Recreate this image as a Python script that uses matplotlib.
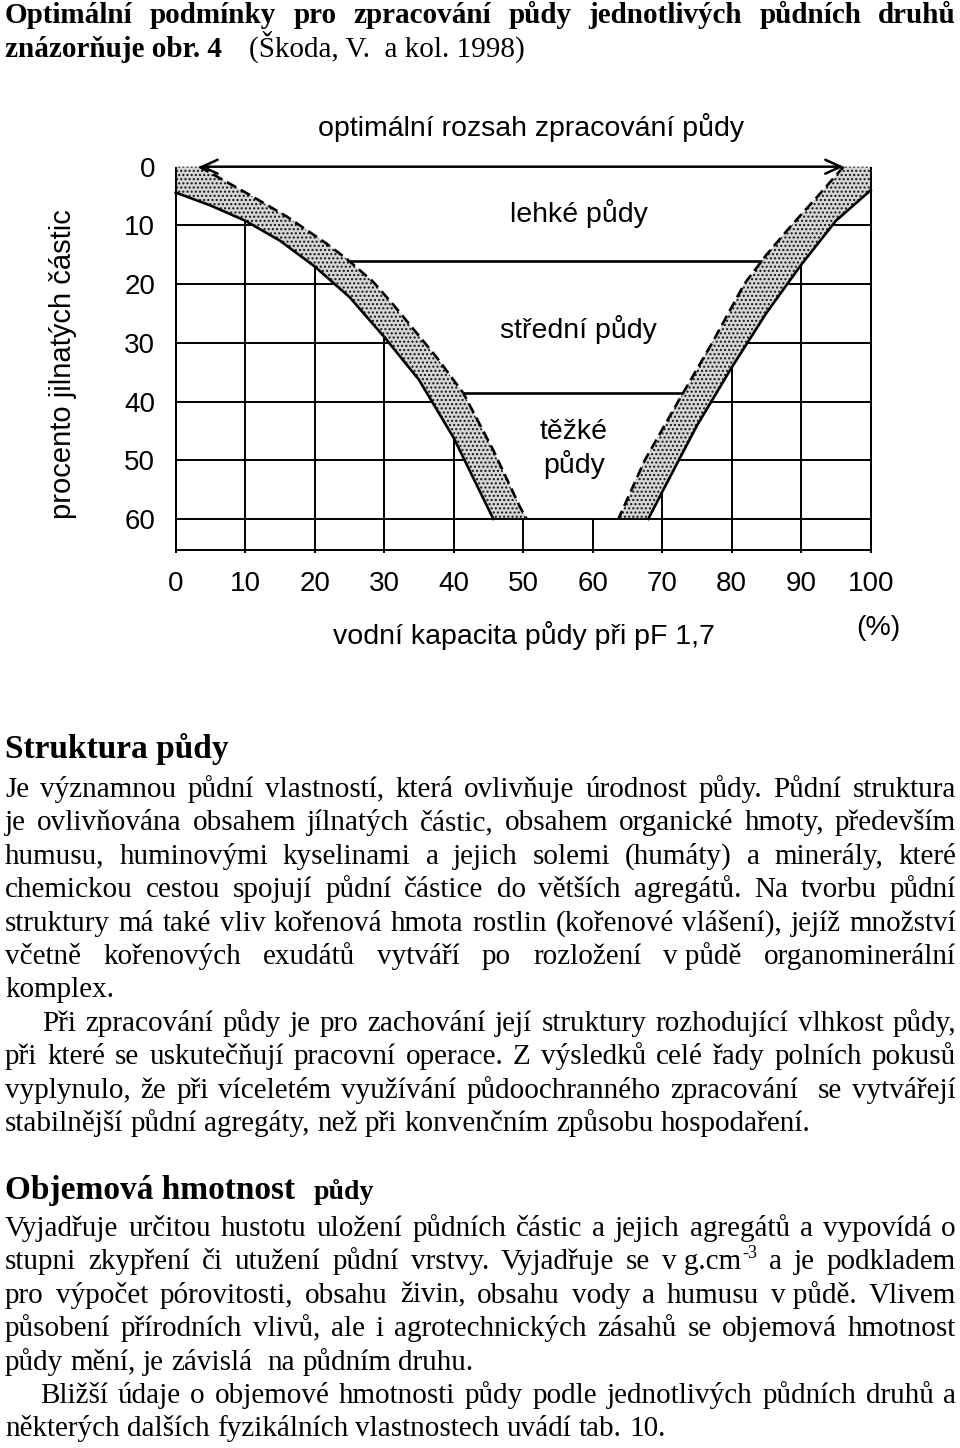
import matplotlib
matplotlib.use("Agg")
import matplotlib.pyplot as plt
from matplotlib.transforms import IdentityTransform

SANS = ['Liberation Sans', 'DejaVu Sans']
SERIF = ['Liberation Serif', 'DejaVu Serif']
plt.rcParams['font.family'] = SANS
plt.rcParams['hatch.linewidth'] = 1.0

W, H = 960, 1448

# --- chart data: x = vodni kapacita (%), y = procento jilnatych castic ---
x_ticks = [0, 10, 20, 30, 40, 50, 60, 70, 80, 90, 100]
y_ticks = [0, 10, 20, 30, 40, 50, 60]

left_outer_x = [0, 5, 10, 15, 20, 25, 30, 35, 40, 45.7]
left_outer_y = [4.4, 6.6, 9.2, 12.6, 17.0, 22.2, 29.0, 36.3, 46.2, 60]
left_inner_x = [3.4, 10.2, 16.0, 21.7, 24.6, 28.4, 31.3, 37.5, 41.4, 45.7, 49.5, 50.5]
left_inner_y = [0, 4.5, 8.5, 13.1, 15.7, 19.6, 23.5, 32.4, 38.6, 48.3, 57.9, 60]
right_inner_x = [96.1, 92.4, 88.6, 85.0, 81.8, 77.2, 72.3, 67.5, 63.7]
right_inner_y = [0, 5, 10, 15, 20, 30, 40, 50, 60]
right_outer_x = [100, 95, 90, 85, 80, 75, 70, 68]
right_outer_y = [4.0, 9.2, 16.7, 24.9, 34.2, 44.1, 55.4, 60]

class_levels = [16, 38.5]
class_x0 = [24.6, 41.4]
class_x1 = [84.4, 73.0]

zone_names = ['lehké půdy', 'střední půdy', 'těžké\npůdy']
zone_x = [58.0, 58.0, 57.3]
zone_y = [8.0, 27.7, 48.1]

chart_title = 'optimální rozsah zpracování půdy'
x_label = 'vodní kapacita půdy při pF 1,7'
y_label = 'procento jilnatých částic'

# --- page text ---
head1 = 'Optimální podmínky pro zpracování půdy jednotlivých půdních druhů'
head2a = 'znázorňuje obr. 4'
head2b = '(Škoda, V.  a kol. 1998)'

sec1 = 'Struktura půdy'
body1 = [
    ('Je významnou půdní vlastností, která ovlivňuje úrodnost půdy. Půdní struktura', 0, True),
    ('je ovlivňována obsahem jílnatých částic, obsahem organické hmoty, především', 0, True),
    ('humusu, huminovými kyselinami a jejich solemi (humáty) a minerály, které', 0, True),
    ('chemickou cestou spojují půdní částice do větších agregátů. Na tvorbu půdní', 0, True),
    ('struktury má také vliv kořenová hmota rostlin (kořenové vlášení), jejíž množství', 0, True),
    ('včetně kořenových exudátů vytváří po rozložení v\u00a0půdě organominerální', 0, True),
    ('komplex.', 0, False),
    ('Při zpracování půdy je pro zachování její struktury rozhodující vlhkost půdy,', 37, True),
    ('při které se uskutečňují pracovní operace. Z výsledků celé řady polních pokusů', 0, True),
    ('vyplynulo, že při víceletém využívání půdoochranného zpracování  se vytvářejí', 0, True),
    ('stabilnější půdní agregáty, než při konvenčním způsobu hospodaření.', 0, False),
]
sec2a = 'Objemová hmotnost'
sec2b = 'půdy'
body2 = [
    ('Vyjadřuje určitou hustotu uložení půdních částic a jejich agregátů a vypovídá o', 0, True),
    ('stupni zkypření či utužení půdní vrstvy. Vyjadřuje se v\u00a0g.cm^-3 a je podkladem', 0, True),
    ('pro výpočet pórovitosti, obsahu živin, obsahu vody a humusu v\u00a0půdě. Vlivem', 0, True),
    ('působení přírodních vlivů, ale i agrotechnických zásahů se objemová hmotnost', 0, True),
    ('půdy mění, je závislá  na půdním druhu.', 0, False),
    ('Bližší údaje o objemové hmotnosti půdy podle jednotlivých půdních druhů a', 35, True),
    ('některých dalších fyzikálních vlastnostech uvádí tab. 10.', 0, False),
]

fig = plt.figure(figsize=(W / 100, H / 100), dpi=100)
r = fig.canvas.get_renderer()
PX = IdentityTransform()


def put(x, y, s, size, weight='normal', family=SERIF, ha='left', va='baseline', **kw):
    return fig.text(x, H - y, s, transform=PX, fontsize=size, fontweight=weight,
                    family=family, ha=ha, va=va, **kw)


def line(y, text, x0=5, x1=956, size=21, weight='normal', justify=True):
    toks = text.split(' ')
    items = []
    total = 0
    em = size * 100 / 72
    for tok in toks:
        arts = []
        w = 0
        if tok:
            base, _, sup = tok.partition('^')
            a = put(0, y, base, size, weight)
            wa = a.get_window_extent(r).width
            arts.append((a, 0, y))
            w = wa
            if sup:
                ys = y - em * 0.38
                b = put(0, ys, sup, size * 0.62, weight)
                arts.append((b, wa + 1, ys))
                w += b.get_window_extent(r).width + 1
        items.append((arts, w))
        total += w
    n = len(toks)
    gap = (x1 - x0 - total) / (n - 1) if (justify and n > 1) else em * 0.25
    x = x0
    for arts, w in items:
        for a, dx, yy in arts:
            a.set_position((x + dx, H - yy))
        x += w + gap


# ---------------- chart ----------------
ax = fig.add_axes([168.75 / W, 1 - 557.06 / H, 708.9 / W, 396.23 / H])
ax.set_xlim(-1, 101)
ax.set_ylim(66.5, -1)
for sp in ax.spines.values():
    sp.set_visible(False)

ax.hlines(y_ticks[1:-1], 0, 100, color='k', lw=1.4, zorder=1)
ax.hlines(65.3, 0, 100, color='k', lw=1.4, zorder=1)
ax.vlines(x_ticks, 0, 65.8, color='k', lw=1.4, zorder=1)

# white inside the V (hides the grid)
vx = [0] + left_outer_x + right_outer_x[::-1] + [100]
vy = [0] + left_outer_y + right_outer_y[::-1] + [0]
ax.fill(vx, vy, color='white', lw=0, zorder=2)

# stippled bands
lbx = [0] + left_outer_x + left_inner_x[::-1]
lby = [0] + left_outer_y + left_inner_y[::-1]
rbx = [100] + right_inner_x + right_outer_x[::-1]
rby = [0] + right_inner_y + right_outer_y[::-1]
for bx, by in [(lbx, lby), (rbx, rby)]:
    ax.fill(bx, by, facecolor='#d6d6d6', edgecolor='#111111', hatch='....', lw=0, zorder=3)

ax.plot(left_outer_x, left_outer_y, color='k', lw=1.9, zorder=4)
ax.plot(right_outer_x, right_outer_y, color='k', lw=1.9, zorder=4)
ax.plot(left_inner_x, left_inner_y, color='k', lw=1.9, ls=(0, (4, 2)), zorder=4)
ax.plot(right_inner_x, right_inner_y, color='k', lw=1.9, ls=(0, (4, 2)), zorder=4)

ax.hlines(class_levels, class_x0, class_x1, color='k', lw=1.9, zorder=4)
ax.hlines(60, 0, 100, color='k', lw=1.4, zorder=4)
ax.vlines([0, 100], 0, 65.8, color='k', lw=1.4, zorder=5)

ax.annotate('', xy=(left_inner_x[0], 0), xytext=(right_inner_x[0], 0),
            arrowprops=dict(arrowstyle='<->,head_length=0.55,head_width=0.25', lw=1.8,
                            color='k', shrinkA=0, shrinkB=0, mutation_scale=20),
            zorder=5, annotation_clip=False)

for name, zx, zy in zip(zone_names, zone_x, zone_y):
    ax.text(zx, zy, name, ha='center', va='center', fontsize=20.5, linespacing=1.2, zorder=6)

ax.set_xticks(x_ticks)
ax.set_yticks(y_ticks)
ax.tick_params(length=0, labelsize=20)
ax.tick_params(axis='x', pad=10.2)
ax.tick_params(axis='y', pad=9.9)

put(531, 128, chart_title, 20.5, family=SANS, ha='center', va='center')
put(524, 635, x_label, 20.5, family=SANS, ha='center', va='center')
put(878, 628, '(%)', 20.5, family=SANS, ha='center', va='center')
put(63, 364, y_label, 21, family=SANS, ha='center', va='center', rotation=90)

# ---------------- page text ----------------
line(23, head1, weight='bold')
put(5, 57, head2a, 21, 'bold')
put(249, 57, head2b, 21)

put(5, 758, sec1, 24, 'bold')
for i, (txt, ind, just) in enumerate(body1):
    line(797 + 33.4 * i, txt, x0=5 + ind, justify=just)

put(5, 1199, sec2a, 24, 'bold')
put(314, 1199, sec2b, 20, 'bold')
for i, (txt, ind, just) in enumerate(body2):
    line(1236 + 33.4 * i, txt, x0=5 + ind, justify=just)

fig.savefig('out.png', dpi=100, facecolor='white')
